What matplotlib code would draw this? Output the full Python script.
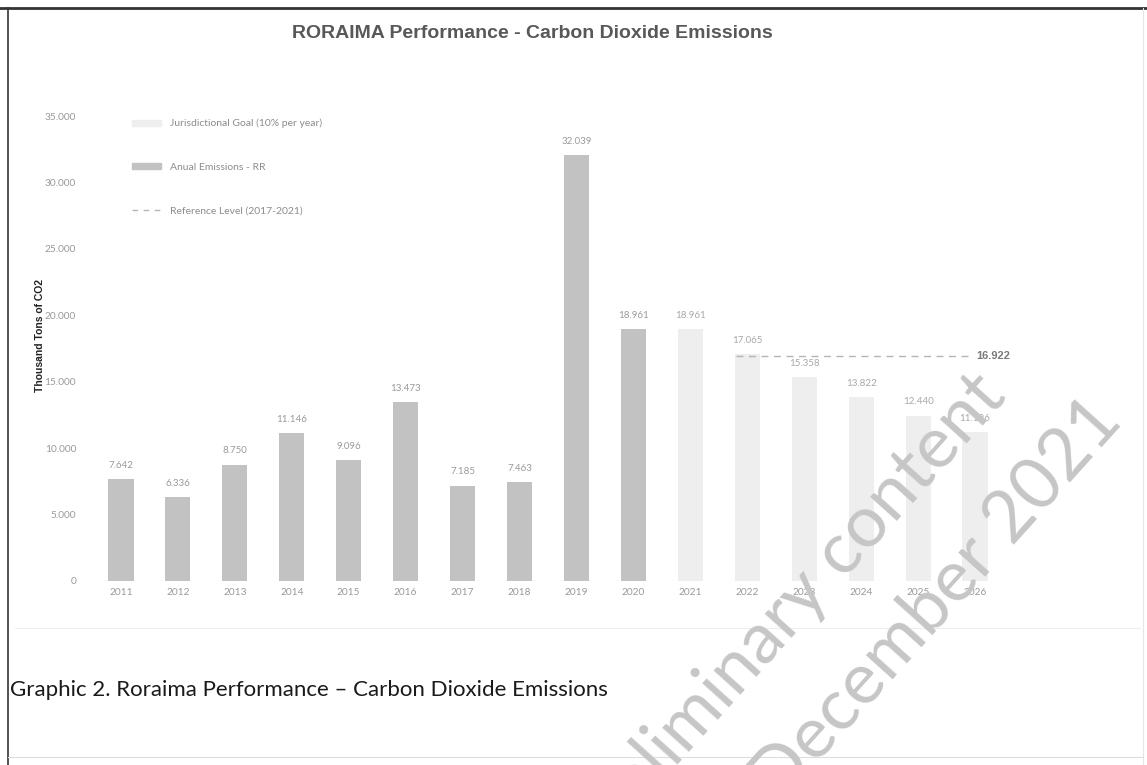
import matplotlib
matplotlib.use("Agg")
import matplotlib.pyplot as plt
import matplotlib.patches as mpatches
from matplotlib.lines import Line2D
from matplotlib.ticker import FuncFormatter

# data
years_actual = ["2011", "2012", "2013", "2014", "2015", "2016", "2017", "2018", "2019", "2020"]
emissions = [7642, 6336, 8750, 11146, 9096, 13473, 7185, 7463, 32039, 18961]
years_goal = ["2021", "2022", "2023", "2024", "2025", "2026"]
goal = [18961, 17065, 15358, 13822, 12440, 11196]
ref_years = ["2022", "2026"]
ref_level = 16922

W, H = 1147, 765
fig = plt.figure(figsize=(W / 100, H / 100), dpi=100)
fig.patch.set_facecolor("white")

years = years_actual + years_goal
pos = {y: i for i, y in enumerate(years)}

# axes placed in pixels: 2011 centre at x=121, 2026 at x=975, y=0 at 581, 35000 at 116
ppu = (975 - 121) / 15
left_px, right_px = 90, 1010
ax = fig.add_axes([left_px / W, (H - 581) / H, (right_px - left_px) / W, (581 - 116) / H])
ax.set_xlim(-(121 - left_px) / ppu, 15 + (right_px - 975) / ppu)
ax.set_ylim(0, 35000)

bw = 0.44
dark = "#c2c2c2"
light = "#eeeeee"
lbl_col = "#9a9a9a"
font = "Lato"

xa = [pos[y] for y in years_actual]
xg = [pos[y] for y in years_goal]
ax.bar(xg, goal, width=bw, color=light, zorder=2)
ax.bar(xa, emissions, width=bw, color=dark, zorder=2)

for x, v in zip(xa, emissions):
    ax.text(x, v + 700, f"{v:,}".replace(",", "."), ha="center", va="bottom",
            fontsize=7, color=lbl_col, family=font)
for x, v in zip(xg, goal):
    ax.text(x, v + 700, f"{v:,}".replace(",", "."), ha="center", va="bottom",
            fontsize=7, color="#a8a8a8", family=font)

# reference level
rx = [pos[ref_years[0]] - 0.2, pos[ref_years[1]] - 0.1]
ax.plot(rx, [ref_level, ref_level], ls=(0, (5, 4)), color="#b5b5b5", lw=1.0, zorder=3)
ax.text(rx[1] + 0.12, ref_level, f"{ref_level:,}".replace(",", "."), ha="left", va="center",
        fontsize=8, color="#7a7a7a", fontweight="bold", family="Liberation Sans")

ax.axhline(0, color="#e2e2e2", lw=0.8, zorder=1)

ax.set_xticks(range(len(years)))
ax.set_xticklabels(years)
ax.set_yticks(range(0, 35001, 5000))
ax.yaxis.set_major_formatter(FuncFormatter(lambda v, p: f"{int(v):,}".replace(",", ".")))
ax.tick_params(axis="both", length=0, labelsize=7.3, labelcolor="#999999")
ax.tick_params(axis="y", pad=10)
ax.tick_params(axis="x", pad=5)
for t in ax.get_xticklabels() + ax.get_yticklabels():
    t.set_family(font)
for s in ax.spines.values():
    s.set_visible(False)

ax.set_ylabel("Thousand Tons of CO2", fontsize=7.5, fontweight="bold", color="#222222",
              family="Liberation Sans")
ax.yaxis.set_label_coords((45 - left_px) / (right_px - left_px), (581 - 335) / (581 - 116))

handles = [
    mpatches.Patch(color=light, label="Jurisdictional Goal (10% per year)"),
    mpatches.Patch(color=dark, label="Anual Emissions - RR"),
    Line2D([0], [0], color="#b5b5b5", ls=(0, (4, 4)), lw=1.0, label="Reference Level (2017-2021)"),
]
leg = ax.legend(handles=handles, loc="upper left", bbox_to_anchor=(0.035, 1.014), frameon=False,
                labelspacing=3.3, handlelength=2.8, handleheight=0.5, handletextpad=0.9,
                prop={"family": font, "size": 7.5})
for t in leg.get_texts():
    t.set_color("#8c8c8c")

fig.text(532 / W, 1 - 33 / H, "RORAIMA Performance - Carbon Dioxide Emissions", ha="center",
         va="center", fontsize=14, fontweight="bold", color="#585858", family="Liberation Sans")

fig.text(10 / W, 1 - 690 / H, "Graphic 2. Roraima Performance \u2013 Carbon Dioxide Emissions",
         ha="left", va="center", fontsize=16, color="#1a1a1a", family=font)

# watermark
wm = "#c6c6c6"
fig.text(1008 / W, 1 - 398 / H, "Preliminary content", ha="right", va="baseline", rotation=48,
         rotation_mode="anchor", fontsize=52, color=wm, family=font, zorder=10)
fig.text(1124 / W, 1 - 422 / H, "December 2021", ha="right", va="baseline", rotation=48,
         rotation_mode="anchor", fontsize=52, color=wm, family=font, zorder=10)

# page frame lines
fig.add_artist(Line2D([0, 1], [1 - 8 / H] * 2, color="#333333", lw=2.0))
fig.add_artist(Line2D([8 / W] * 2, [0, 1 - 8 / H], color="#333333", lw=1.2))
fig.add_artist(Line2D([1143 / W] * 2, [0, 1 - 8 / H], color="#e6e6e6", lw=0.8))
fig.add_artist(Line2D([15 / W, 1140 / W], [1 - 628 / H] * 2, color="#eeeeee", lw=0.8))
fig.add_artist(Line2D([8 / W, 1143 / W], [1 - 757 / H] * 2, color="#dddddd", lw=0.8))

fig.savefig("out.png", dpi=100, facecolor="white")
